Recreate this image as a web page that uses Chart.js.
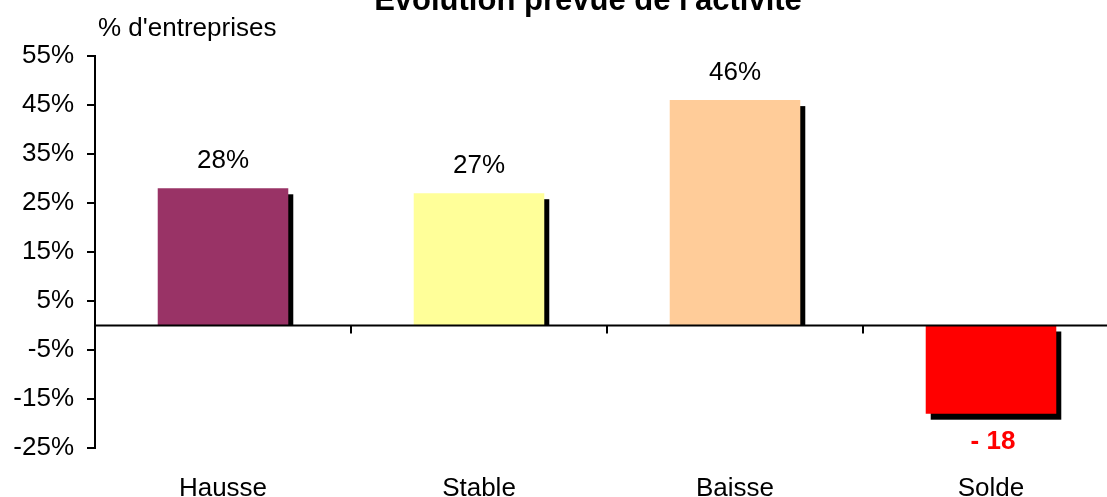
<!DOCTYPE html>
<html>
<head>
<meta charset="utf-8">
<script src="https://cdn.jsdelivr.net/npm/chart.js@4"></script>
<style>
  html, body { margin: 0; padding: 0; background: #fff; overflow: hidden; }
  #wrap { position: relative; width: 1125px; height: 497px; }
</style>
</head>
<body>
<div id="wrap"><canvas id="c"></canvas></div>
<script>
/* Évolution prévue de l'activité : bar chart with drop shadows, zero line and value labels */
var TITLE = "Évolution prévue de l'activité";
var Y_TITLE = "% d'entreprises";
var categories = ['Hausse', 'Stable', 'Baisse', 'Solde'];
var values = [28, 27, 46, -18];
var valueLabels = ['28%', '27%', '46%', '- 18'];
var barColors = ['#993366', '#FFFF99', '#FFCC99', '#FF0000'];
var yTicks = [-25, -15, -5, 5, 15, 25, 35, 45, 55];

var FONT = '"Liberation Sans", Arial, sans-serif';

var decor = {
  id: 'decor',
  beforeDatasetsDraw: function (chart) {
    var ctx = chart.ctx;
    var meta = chart.getDatasetMeta(0);
    ctx.save();
    ctx.fillStyle = '#000';
    meta.data.forEach(function (bar, i) {
      var p = bar.getProps(['x', 'y', 'base', 'width'], true);
      var left = p.x - p.width / 2 + 5;
      if (values[i] >= 0) {
        ctx.fillRect(left, p.y + 6, p.width, p.base - p.y - 6);
      } else {
        ctx.fillRect(left, p.base + 6, p.width, p.y - p.base);
      }
    });
    ctx.restore();
  },
  afterDatasetsDraw: function (chart) {
    var ctx = chart.ctx, a = chart.chartArea;
    var xs = chart.scales.x, ys = chart.scales.y;
    var y0 = ys.getPixelForValue(0);
    ctx.save();
    // zero line + category separators
    ctx.strokeStyle = '#000';
    ctx.lineWidth = 2;
    ctx.beginPath();
    ctx.moveTo(a.left, y0);
    ctx.lineTo(a.right, y0);
    for (var i = 1; i < categories.length; i++) {
      var bx = (xs.getPixelForValue(i - 1) + xs.getPixelForValue(i)) / 2;
      ctx.moveTo(bx, y0);
      ctx.lineTo(bx, y0 + 8);
    }
    ctx.stroke();
    // value labels
    var meta = chart.getDatasetMeta(0);
    ctx.textAlign = 'center';
    ctx.textBaseline = 'middle';
    meta.data.forEach(function (bar, i) {
      if (values[i] >= 0) {
        ctx.font = '26px ' + FONT;
        ctx.fillStyle = '#000';
        ctx.fillText(valueLabels[i], bar.x, bar.y - 27);
      } else {
        ctx.font = 'bold 26px ' + FONT;
        ctx.fillStyle = '#FF0000';
        ctx.fillText(valueLabels[i], bar.x + 2, bar.y + 28);
      }
    });
    // titles
    ctx.fillStyle = '#000';
    ctx.textBaseline = 'alphabetic';
    ctx.font = 'bold 31px ' + FONT;
    ctx.fillText(TITLE, 588, 10);
    ctx.textAlign = 'left';
    ctx.font = '26px ' + FONT;
    ctx.fillText(Y_TITLE, 98, 36);
    ctx.restore();
  }
};

new Chart(document.getElementById('c'), {
  type: 'bar',
  data: {
    labels: categories,
    datasets: [{
      data: values,
      backgroundColor: barColors,
      borderWidth: 0,
      barPercentage: 0.51,
      categoryPercentage: 1
    }]
  },
  options: {
    responsive: true,
    maintainAspectRatio: false,
    animation: false,
    layout: { padding: { top: 56, right: 6, left: 0, bottom: 0 } },
    plugins: { legend: { display: false }, tooltip: { enabled: false } },
    scales: {
      x: {
        grid: { display: false },
        border: { display: false },
        ticks: { color: '#000', font: { family: FONT, size: 26 }, padding: 17 },
        afterFit: function (s) { s.height = 49; }
      },
      y: {
        min: -25, max: 55,
        afterBuildTicks: function (s) { s.ticks = yTicks.map(function (v) { return { value: v }; }); },
        afterFit: function (s) { s.width = 95; },
        border: { display: true, color: '#000', width: 2 },
        grid: { display: true, drawOnChartArea: false, drawTicks: true, tickLength: 8, color: '#000', lineWidth: 2 },
        ticks: {
          color: '#000', padding: 13,
          font: { family: FONT, size: 26 },
          callback: function (v) { return v + '%'; }
        }
      }
    }
  },
  plugins: [decor]
});
</script>
</body>
</html>
